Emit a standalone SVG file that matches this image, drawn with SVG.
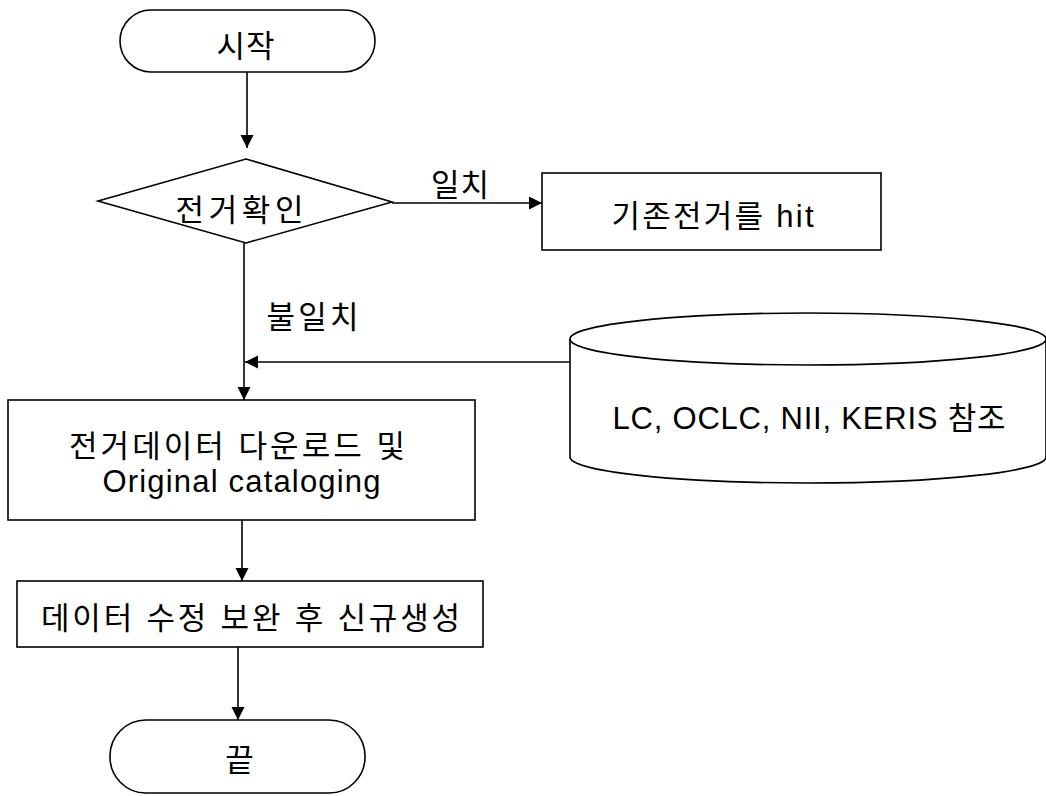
<svg xmlns="http://www.w3.org/2000/svg" width="1046" height="796" viewBox="0 0 1046 796">
<defs>
<marker id="arr" markerWidth="14" markerHeight="14" refX="13" refY="6.5" orient="auto" markerUnits="userSpaceOnUse">
<path d="M0,0 L13,6.5 L0,13 Z" fill="#000"/>
</marker>
<style>
.s{fill:#fff;stroke:#000;stroke-width:1.6}
.t{font-family:"Liberation Sans","Noto Sans CJK KR",sans-serif;font-size:31px;fill:#000;text-anchor:middle}
.c{fill:none;stroke:#000;stroke-width:1.6}
</style>
</defs>
<rect width="1046" height="796" fill="#fff"/>
<g id="connectors">
<line class="c" x1="247" y1="72" x2="247" y2="148" marker-end="url(#arr)"/>
<line class="c" x1="392" y1="203" x2="542" y2="203" marker-end="url(#arr)"/>
<line class="c" x1="244" y1="243" x2="244" y2="400" marker-end="url(#arr)"/>
<line class="c" x1="570" y1="362" x2="245" y2="362" marker-end="url(#arr)"/>
<line class="c" x1="242" y1="520" x2="242" y2="581" marker-end="url(#arr)"/>
<line class="c" x1="238" y1="647" x2="238" y2="720" marker-end="url(#arr)"/>
<text class="t" x="460" y="196" textLength="58" lengthAdjust="spacing">일치</text>
<text class="t" x="312.5" y="328" textLength="92" lengthAdjust="spacing">불일치</text>
</g>
<g id="start">
<rect class="s" x="120" y="10" width="255" height="62" rx="31" ry="31"/>
<text class="t" x="245.5" y="57" textLength="58" lengthAdjust="spacing">시작</text>
</g>
<g id="decision">
<polygon class="s" points="98,201 246,159 392,202 246,243"/>
<text class="t" x="239.5" y="221" textLength="128" lengthAdjust="spacing">전거확인</text>
</g>
<g id="hit">
<rect class="s" x="542" y="173" width="339" height="77"/>
<text class="t" x="712.5" y="227" textLength="202" lengthAdjust="spacing">기존전거를 hit</text>
</g>
<g id="db">
<path class="s" d="M570,339 L570,457 A238,26 0 0 0 1046,457 L1046,339 A238,26 0 0 0 570,339 Z"/>
<path class="c" d="M570,339 A238,26 0 0 0 1046,339"/>
<text class="t" x="809" y="429" textLength="393" lengthAdjust="spacing">LC, OCLC, NII, KERIS 참조</text>
</g>
<g id="download">
<rect class="s" x="8" y="400" width="467" height="120"/>
<text class="t" x="237" y="457" textLength="336" lengthAdjust="spacing">전거데이터 다운로드 및</text>
<text class="t" x="241.5" y="492" textLength="278" lengthAdjust="spacing">Original cataloging</text>
</g>
<g id="create">
<rect class="s" x="17" y="581" width="466" height="66"/>
<text class="t" x="250.5" y="629" textLength="419" lengthAdjust="spacing">데이터 수정 보완 후 신규생성</text>
</g>
<g id="end">
<rect class="s" x="110" y="720" width="255" height="73" rx="36" ry="36"/>
<text class="t" x="239.5" y="771">끝</text>
</g>
</svg>
